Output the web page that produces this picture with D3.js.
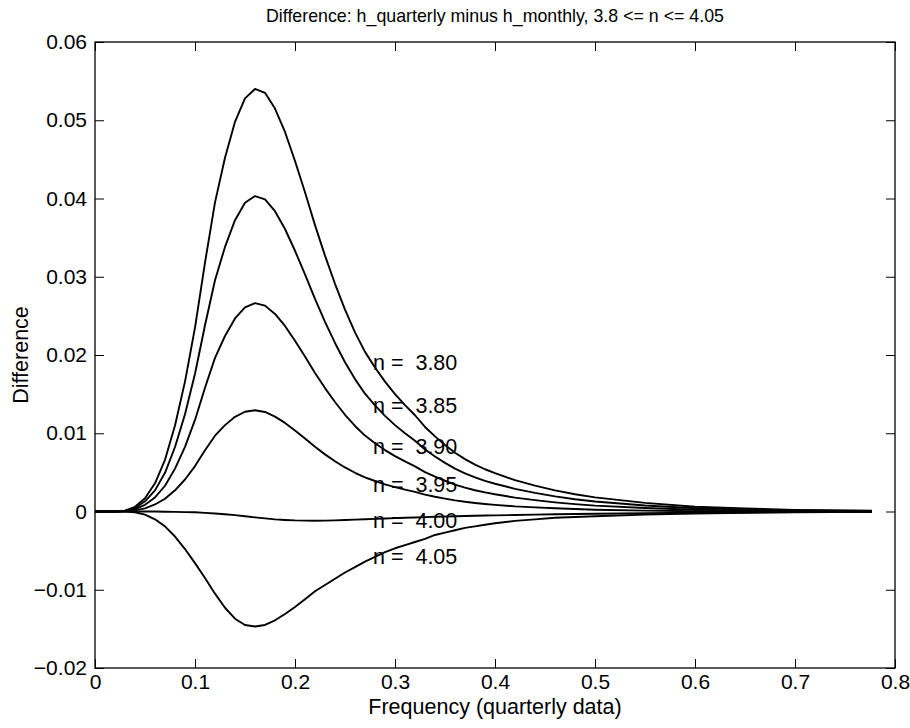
<!DOCTYPE html>
<html><head><meta charset="utf-8">
<script src="https://cdn.jsdelivr.net/npm/d3@7"></script>
<style>
body{margin:0;background:#fff}
text{font-family:"Liberation Sans",Arial,Helvetica,sans-serif;fill:#000}
</style>
</head><body>
<svg id="chart" width="910" height="728"></svg>
<script>
const freq = [0,0.01,0.02,0.03,0.04,0.05,0.06,0.07,0.08,0.09,
  0.10,0.11,0.12,0.13,0.14,0.15,0.16,0.17,0.18,0.19,
  0.20,0.21,0.22,0.23,0.24,0.25,0.26,0.27,0.28,0.29,
  0.30,0.31,0.32,0.33,0.34,0.35,0.36,0.37,0.38,0.39,
  0.40,0.42,0.44,0.46,0.48,0.50,0.55,0.60,0.65,0.70,0.777];

const n380 = [0,0,0,0.0001,0.0006,0.0017,0.0036,0.0066,0.0110,0.0166,
  0.0235,0.0318,0.0395,0.0452,0.0498,0.0528,0.0540,0.0535,0.0515,0.0485,
  0.0448,0.0408,0.0366,0.0327,0.0291,0.0258,0.0229,0.0204,0.0184,0.0166,
  0.0150,0.0136,0.0123,0.0108,0.0096,0.0085,0.0075,0.0067,0.0060,0.0054,
  0.0049,0.0040,0.0033,0.0027,0.0022,0.0018,0.0011,0.0006,0.0004,0.0002,0.0001];

const n385 = [0,0,0,0.00008,0.00045,0.0013,0.0027,0.00494,0.00824,0.01243,
  0.0176,0.02381,0.02956,0.03381,0.03723,0.03945,0.04031,0.0399,0.03838,0.0361,
  0.03332,0.03031,0.02716,0.02424,0.02154,0.01908,0.01692,0.01505,0.01356,0.01222,
  0.01104,0.0100,0.00904,0.00792,0.00703,0.00622,0.00548,0.00488,0.00436,0.00392,
  0.00355,0.00289,0.00238,0.00194,0.00157,0.00128,0.00077,0.00041,0.00027,0.00013,0.00006];

const n390 = [0,0,0,0.00005,0.0003,0.00085,0.0018,0.00329,0.00548,0.00826,
  0.0117,0.01582,0.01963,0.02243,0.02467,0.0261,0.02663,0.02631,0.02525,0.02371,
  0.02183,0.01982,0.01771,0.01577,0.01399,0.01236,0.01093,0.0097,0.00873,0.00785,
  0.00707,0.0064,0.00577,0.00504,0.00446,0.00393,0.00344,0.00306,0.00272,0.00244,
  0.0022,0.00178,0.00145,0.00117,0.00094,0.00075,0.00044,0.00022,0.00014,0.00006,0.00003];

const n395 = [0,0,0,0.00003,0.00015,0.0004,0.0009,0.00163,0.00271,0.00409,
  0.0058,0.00782,0.00969,0.01104,0.0121,0.01275,0.01294,0.01272,0.01213,0.01132,
  0.01035,0.00932,0.00827,0.0073,0.00643,0.00563,0.00495,0.00436,0.0039,0.00347,
  0.00311,0.0028,0.00251,0.00216,0.00189,0.00165,0.00142,0.00124,0.00109,0.00096,
  0.00085,0.00066,0.00053,0.00041,0.00031,0.00023,0.00011,0.00003,0.00001,-0.00001,-0.00001];

const n400 = [0,0,0,0,0,0,0,-0.00003,-0.00005,-0.00008,
  -0.0001,-0.00017,-0.00025,-0.00035,-0.00047,-0.0006,-0.00075,-0.00088,-0.001,-0.00108,
  -0.00114,-0.00117,-0.00118,-0.00116,-0.00113,-0.00109,-0.00104,-0.00099,-0.00094,-0.0009,
  -0.00085,-0.0008,-0.00076,-0.00072,-0.00068,-0.00064,-0.00061,-0.00058,-0.00055,-0.00052,
  -0.0005,-0.00045,-0.0004,-0.00036,-0.00032,-0.00029,-0.00022,-0.00016,-0.00012,-0.00008,-0.00005];

const n405 = [0,0,0,0,-0.0001,-0.0004,-0.0010,-0.0019,-0.0032,-0.0048,
  -0.0066,-0.0085,-0.0105,-0.0123,-0.0137,-0.0145,-0.0147,-0.0145,-0.0139,-0.0131,
  -0.0122,-0.0112,-0.0102,-0.0094,-0.0086,-0.0078,-0.0071,-0.0064,-0.0058,-0.0052,
  -0.0047,-0.0043,-0.0039,-0.0035,-0.0030,-0.0027,-0.0024,-0.0021,-0.0019,-0.0017,
  -0.0015,-0.0012,-0.0010,-0.0008,-0.0007,-0.0006,-0.0004,-0.00025,-0.00017,-0.0001,-0.00005];

const seriesLabels = ["n =  3.80","n =  3.85","n =  3.90","n =  3.95","n =  4.00","n =  4.05"];
const labelX = 0.278;
const labelY = [0.019, 0.0136, 0.0083, 0.0034, -0.0012, -0.0058];
const xTicks = [0,0.1,0.2,0.3,0.4,0.5,0.6,0.7,0.8];
const yTicks = [-0.02,-0.01,0,0.01,0.02,0.03,0.04,0.05,0.06];
const titleText = "Difference: h_quarterly minus h_monthly, 3.8 <= n <= 4.05";
const xLabelText = "Frequency (quarterly data)";
const yLabelText = "Difference";

const series = [n380, n385, n390, n395, n400, n405];

const W = 910, H = 728;
const m = {left: 95, right: 15, top: 42, bottom: 60};
const iw = W - m.left - m.right, ih = H - m.top - m.bottom;

const svg = d3.select("#chart");
const g = svg.append("g").attr("transform", `translate(${m.left},${m.top})`);

const x = d3.scaleLinear().domain([0, 0.8]).range([0, iw]);
const y = d3.scaleLinear().domain([-0.02, 0.06]).range([ih, 0]);

const fmtX = d => d === 0 ? "0" : d3.format(".1f")(d);
const fmtY = d => Math.abs(d) < 1e-12 ? "0" : d3.format(".2f")(d);
const TS = 9, FS = 21;

const ax = g.append("g").attr("transform", `translate(0,${ih})`)
  .call(d3.axisBottom(x).tickValues(xTicks).tickFormat(fmtX).tickSizeInner(-TS).tickSizeOuter(0).tickPadding(6));
const ay = g.append("g")
  .call(d3.axisLeft(y).tickValues(yTicks).tickFormat(fmtY).tickSizeInner(-TS).tickSizeOuter(0).tickPadding(8));
const at = g.append("g")
  .call(d3.axisTop(x).tickValues(xTicks).tickFormat("").tickSizeInner(-TS).tickSizeOuter(0));
const ar = g.append("g").attr("transform", `translate(${iw},0)`)
  .call(d3.axisRight(y).tickValues(yTicks).tickFormat("").tickSizeInner(-TS).tickSizeOuter(0));

[ax, ay, at, ar].forEach(a => {
  a.select(".domain").remove();
  a.selectAll("line").attr("stroke", "#000").attr("stroke-width", 1);
  a.selectAll("text").attr("font-size", FS).attr("font-family", "Liberation Sans, Arial, sans-serif").attr("fill", "#000");
});

g.append("rect").attr("x", 0).attr("y", 0).attr("width", iw).attr("height", ih)
  .attr("fill", "none").attr("stroke", "#000").attr("stroke-width", 1.3);

const line = d3.line().x((d, i) => x(freq[i])).y(d => y(d)).curve(d3.curveLinear);

g.selectAll("path.curve").data(series).join("path")
  .attr("class", "curve")
  .attr("d", d => line(d))
  .attr("fill", "none").attr("stroke", "#000").attr("stroke-width", 1.9)
  .attr("stroke-linejoin", "round");

g.selectAll("text.nlab").data(seriesLabels).join("text")
  .attr("class", "nlab")
  .attr("x", x(labelX))
  .attr("y", (d, i) => y(labelY[i]))
  .attr("dy", "0.35em")
  .attr("font-size", 21.5)
  .style("white-space", "pre")
  .attr("xml:space", "preserve")
  .text(d => d);

svg.append("text").attr("x", m.left + iw / 2).attr("y", 22)
  .attr("text-anchor", "middle").attr("font-size", 17.8).text(titleText);

svg.append("text").attr("x", m.left + iw / 2).attr("y", 714)
  .attr("text-anchor", "middle").attr("font-size", 21.5).text(xLabelText);

svg.append("text").attr("transform", `translate(28,${m.top + ih / 2}) rotate(-90)`)
  .attr("text-anchor", "middle").attr("font-size", 21.5).text(yLabelText);
</script>
</body></html>
